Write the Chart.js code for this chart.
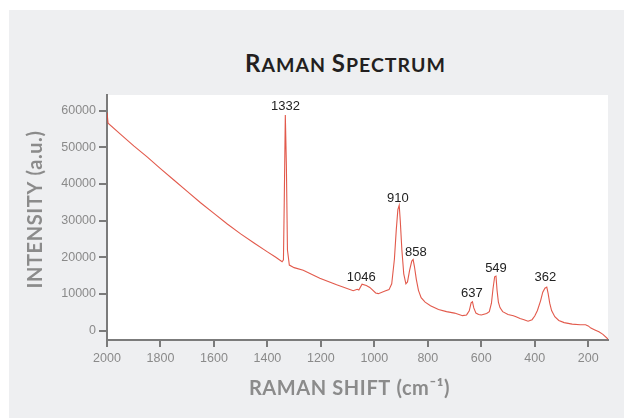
<!DOCTYPE html>
<html>
<head>
<meta charset="utf-8">
<script src="https://cdn.jsdelivr.net/npm/chart.js@4.4.1/dist/chart.umd.min.js"></script>
<style>
  body { margin: 0; background: #ffffff; }
  #panel { position: absolute; left: 9px; top: 10px; width: 615px; height: 408px; background: #eeeff1; }
  #title { position: absolute; left: 0; width: 691px; top: 48px; text-align: center;
           font-family: Lato, "Open Sans", sans-serif; font-weight: bold; font-size: 19.5px;
           color: #231f20; letter-spacing: 1px; white-space: nowrap; }
  #title .cap { font-size: 24px; }
  #wrap { position: absolute; left: 0; top: 0; width: 624px; height: 418px; }
</style>
</head>
<body>
<div id="panel"></div>
<div id="title"><span class="cap">R</span>AMAN <span class="cap">S</span>PECTRUM</div>
<div id="wrap"><canvas id="myChart" width="624" height="418"></canvas></div>
<script>
// spectrum (shift in cm-1, intensity in a.u.)
var shiftValues = [
    2000, 1996, 1950, 1900, 1850, 1800, 1750, 1700, 1650, 1600, 1550, 1500, 1450, 1400, 1370,
    1345, 1340, 1337, 1333, 1329, 1325, 1318, 1300, 1266, 1204, 1141, 1079, 1064, 1058, 1046,
    1030, 1017, 995, 985, 960, 945, 935, 925, 918, 912, 907, 903, 897, 890, 882, 876, 868, 860,
    855, 850, 843, 835, 825, 810, 790, 760, 730, 700, 670, 655, 645, 638, 633, 628, 620, 610,
    600, 580, 570, 562, 556, 550, 545, 541, 536, 530, 520, 500, 480, 470, 455, 440, 425, 410,
    400, 390, 378, 370, 362, 355, 350, 344, 337, 325, 310, 290, 260, 230, 210, 200, 190, 175,
    160, 145, 126
];
var intensityValues = [
    59500, 56600, 53600, 50400, 47400, 44200, 41100, 38000, 34900, 32000, 29100, 26400, 23900, 21500, 20100,
    18800, 19300, 35000, 58800, 45000, 22000, 17900, 17200, 16500, 14300, 12500, 10900, 11300, 11100, 12700,
    12300, 11800, 10300, 10100, 10800, 11200, 12800, 19500, 27500, 33000, 34200, 30000, 22000, 15500, 12800, 13300, 16500, 19000,
    19400, 17500, 14000, 11000, 9000, 7800, 6800, 5800, 5200, 4800, 4100, 4300, 5400, 7600, 7900, 6200, 4800, 4400,
    4300, 4700, 5200, 7500, 11500, 14700, 14900, 11000, 7800, 6300, 5200, 4400, 4100, 3800, 3300, 3000, 2600, 3000,
    4000, 5500, 8200, 10500, 11600, 11900, 10200, 7500, 5500, 3800, 2800, 2200, 1800, 1600, 1600, 1300, 700, 200,
    -300, -1000, -2300
];

var xTicks = [2000, 1800, 1600, 1400, 1200, 1000, 800, 600, 400, 200];
var yTicks = [0, 10000, 20000, 30000, 40000, 50000, 60000];

var xTitle = 'RAMAN SHIFT (cm\u207B\u00B9)';
var yTitle = 'INTENSITY (a.u.)';

// peak annotations: text and where it sits (data coordinates, text baseline)
var peakNames = ['1332', '1046', '910', '858', '637', '549', '362'];
var peakLabelX = [1332, 1049, 912, 845, 635, 545, 360];
var peakLabelY = [60200, 13470, 35100, 20450, 9110, 15930, 13470];

var axisGrey = '#7b7b7b';
var tickFont = { family: 'Liberation Sans', size: 12.5 };

var plotBackground = {
    id: 'plotBackground',
    beforeDraw: function (chart) {
        var a = chart.chartArea;
        chart.ctx.save();
        chart.ctx.fillStyle = '#ffffff';
        chart.ctx.fillRect(a.left, a.top, a.right - a.left, a.bottom - a.top);
        chart.ctx.restore();
    }
};

var peakLabels = {
    id: 'peakLabels',
    afterDatasetsDraw: function (chart) {
        var ctx = chart.ctx;
        var xs = chart.scales.x, ys = chart.scales.y;
        ctx.save();
        ctx.font = '13px "Liberation Sans"';
        ctx.fillStyle = '#222222';
        ctx.textAlign = 'center';
        ctx.textBaseline = 'alphabetic';
        for (var i = 0; i < peakNames.length; i++) {
            ctx.fillText(peakNames[i], xs.getPixelForValue(peakLabelX[i]), ys.getPixelForValue(peakLabelY[i]));
        }
        ctx.restore();
    }
};

// axis titles drawn by hand so the letter spacing can match
var axisTitles = {
    id: 'axisTitles',
    afterDraw: function (chart) {
        var ctx = chart.ctx;
        var a = chart.chartArea;
        ctx.save();
        ctx.font = 'bold 20px Lato';
        ctx.fillStyle = '#8b8b8b';
        ctx.letterSpacing = '0.6px';
        ctx.textAlign = 'center';
        ctx.textBaseline = 'alphabetic';
        ctx.fillText(xTitle, (a.left + a.right) / 2 - 8, a.bottom + 55);
        ctx.translate(a.left - 65, (a.top + a.bottom) / 2 - 8);
        ctx.rotate(-Math.PI / 2);
        ctx.fillText(yTitle, 0, 0);
        ctx.restore();
    }
};

function createChart() {
    var ctx = document.getElementById('myChart');

    var data = {
        datasets: [{
            label: 'Raman spectrum',
            data: shiftValues.map(function (x, i) { return { x: x, y: intensityValues[i] }; }),
            borderColor: 'rgba(222, 66, 50, 0.88)',
            borderWidth: 1.1,
            pointRadius: 0,
            tension: 0,
            fill: false
        }]
    };

    var option = {
        responsive: false,
        animation: false,
        layout: { padding: { left: 0, right: 16, top: 95, bottom: 0 } },
        plugins: {
            legend: { display: false },
            tooltip: { enabled: false }
        },
        scales: {
            x: {
                type: 'linear',
                reverse: true,
                min: 126,
                max: 2000,
                afterBuildTicks: function (scale) {
                    scale.ticks = xTicks.map(function (v) { return { value: v }; });
                },
                afterFit: function (scale) { scale.height = 78; },
                grid: { drawOnChartArea: false, drawTicks: true, tickLength: 7, color: axisGrey, lineWidth: 2 },
                border: { display: true, color: axisGrey, width: 2 },
                ticks: {
                    color: '#8a8a8a', font: tickFont, padding: 4, maxRotation: 0,
                    callback: function (v) { return String(v); }
                }
            },
            y: {
                type: 'linear',
                min: -2540,
                max: 64280,
                afterBuildTicks: function (scale) {
                    scale.ticks = yTicks.map(function (v) { return { value: v }; });
                },
                afterFit: function (scale) { scale.width = 107; },
                grid: { drawOnChartArea: false, drawTicks: true, tickLength: 8, color: axisGrey, lineWidth: 2 },
                border: { display: true, color: axisGrey, width: 2 },
                ticks: {
                    color: '#8a8a8a', font: tickFont, padding: 3,
                    callback: function (v) { return String(v); }
                }
            }
        }
    };

    var myChart = new Chart(ctx, {
        type: 'line',
        data: data,
        options: option,
        plugins: [plotBackground, peakLabels, axisTitles]
    });
}

createChart();
</script>
</body>
</html>
